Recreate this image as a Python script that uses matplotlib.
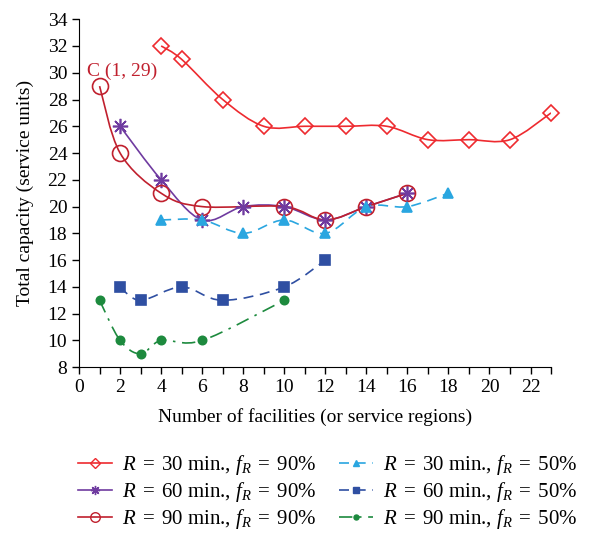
import matplotlib.pyplot as plt
import numpy as np
from matplotlib.path import Path
from matplotlib.patches import PathPatch
from matplotlib.lines import Line2D

plt.rcParams['font.family'] = ['Liberation Serif', 'DejaVu Serif']
plt.rcParams['mathtext.fontset'] = 'custom'
plt.rcParams['mathtext.rm'] = 'Liberation Serif'
plt.rcParams['mathtext.it'] = 'Liberation Serif:italic'

# R = 30 min., f_R = 90%
x_30_90 = [4, 5, 7, 9, 11, 13, 15, 17, 19, 21, 23]
y_30_90 = [32, 31, 28, 26, 26, 26, 26, 25, 25, 25, 27]
# R = 60 min., f_R = 90%
x_60_90 = [2, 4, 6, 8, 10, 12, 14, 16]
y_60_90 = [26, 22, 19, 20, 20, 19, 20, 21]
# R = 90 min., f_R = 90%
x_90_90 = [1, 2, 4, 6, 10, 12, 14, 16]
y_90_90 = [29, 24, 21, 20, 20, 19, 20, 21]
# R = 30 min., f_R = 50%
x_30_50 = [4, 6, 8, 10, 12, 14, 16, 18]
y_30_50 = [19, 19, 18, 19, 18, 20, 20, 21]
# R = 60 min., f_R = 50%
x_60_50 = [2, 3, 5, 7, 10, 12]
y_60_50 = [14, 13, 14, 13, 14, 16]
# R = 90 min., f_R = 50%
x_90_50 = [1, 2, 3, 4, 6, 10]
y_90_50 = [13, 10, 9, 10, 10, 13]


def smooth_path(xs, ys):
    # cubic bezier segments through the points (spreadsheet-style smoothed line)
    p = np.column_stack([xs, ys]).astype(float)
    n = len(p)
    verts = [p[0]]
    codes = [Path.MOVETO]
    for i in range(n - 1):
        p0 = p[i - 1] if i > 0 else p[i]
        p3 = p[i + 2] if i + 2 < n else p[i + 1]
        c1 = p[i] + (p[i + 1] - p0) / 6.0
        c2 = p[i + 1] - (p3 - p[i]) / 6.0
        verts += [c1, c2, p[i + 1]]
        codes += [Path.CURVE4] * 3
    return Path(verts, codes)


def lab(r, f):
    return r'$R\;=\;%d$ min., $f_R\;=\;%d$%%' % (r, f)


series = [
    (x_30_90, y_30_90, '#ee2a2f', 'D', 8, 'none', '-', lab(30, 90)),
    (x_60_90, y_60_90, '#6f3ba0', (8, 2, 0), 11, None, '-', lab(60, 90)),
    (x_90_90, y_90_90, '#c0202e', 'o', 11.5, 'none', '-', lab(90, 90)),
    (x_30_50, y_30_50, '#2aa6e0', '^', 6.5, None, (0, (6, 4)), lab(30, 50)),
    (x_60_50, y_60_50, '#2f4fa2', 's', 6.5, None, (0, (6, 4)), lab(60, 50)),
    (x_90_50, y_90_50, '#1d8a3e', 'o', 6, None, (0, (8, 4, 1.5, 4)), lab(90, 50)),
]

fig = plt.figure(figsize=(5.9, 5.33), dpi=100)
ax = fig.add_axes([0.134, 0.311, 0.8, 0.653])

handles = []
for xs, ys, col, mk, ms, mfc, ls, label in series:
    ax.add_patch(PathPatch(smooth_path(xs, ys), facecolor='none', edgecolor=col,
                           lw=1.2, linestyle=ls, zorder=2))
    face = col if mfc is None else mfc
    ax.plot(xs, ys, linestyle='none', marker=mk, ms=ms, mfc=face, mec=col,
            mew=1.2, zorder=3, clip_on=False)
    handles.append(Line2D([], [], color=col, lw=1.2, linestyle=ls, marker=mk,
                          ms=ms * 0.6, mfc=face, mec=col, mew=1.0, label=label))

ax.text(0.4, 30.1, 'C (1, 29)', color='#c0202e', fontsize=14, va='center')

ax.set_xlim(0, 23)
ax.set_ylim(8, 34)
ax.set_xticks(np.arange(0, 23, 2))
ax.set_xticks(np.arange(0, 24, 1), minor=True)
ax.set_yticks(np.arange(8, 35, 2))
ax.spines['top'].set_visible(False)
ax.spines['right'].set_visible(False)
ax.tick_params(axis='both', which='both', direction='out', length=5, width=1,
               labelsize=14)
ax.set_xlabel('Number of facilities (or service regions)', fontsize=14, labelpad=9)
ax.set_ylabel('Total capacity (service units)', fontsize=14, labelpad=10)

fig.legend(handles=handles, loc='upper left', bbox_to_anchor=(78 / 590, 0.150),
           ncol=2, frameon=False, fontsize=15, handlelength=1.65,
           columnspacing=1.1, labelspacing=0.14, handletextpad=0.45,
           borderpad=0, borderaxespad=0)

fig.savefig('out.png', dpi=100)
